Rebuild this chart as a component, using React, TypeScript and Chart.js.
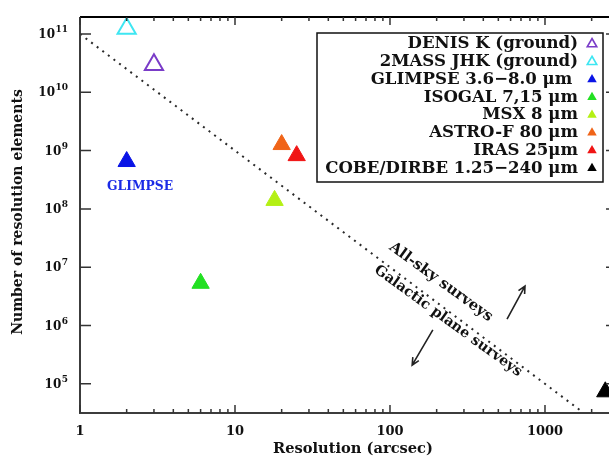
import React, { useEffect, useRef } from 'react';
import { Chart, registerables } from 'chart.js';

Chart.register(...registerables);

// ---------- data ----------
const seriesLabels = [
  'DENIS K (ground)',
  '2MASS JHK (ground)',
  'GLIMPSE 3.6−8.0 μm ',
  'ISOGAL 7,15 μm',
  'MSX 8 μm',
  'ASTRO-F 80 μm',
  'IRAS 25μm',
  'COBE/DIRBE 1.25−240 μm',
];
const resolutionArcsec = [3, 2, 2, 6, 18, 20, 25, 2450];
const resolutionElements = [2.96e10, 1.24e11, 6.5e8, 5.3e6, 1.4e8, 1.27e9, 8.2e8, 7.3e4];
const seriesColors = ['#7a3cc8', '#3ee6f2', '#0a14e6', '#22e022', '#b4f014', '#f06418', '#f01414', '#000000'];
const seriesHollow = [true, true, false, false, false, false, false, false];

const limitLineX = [1, 1779];
const limitLineY = [1e11, 3.16e4];

const xMin = 1;
const xMax = 2588;
const yMin = 3.16e4;
const yMax = 1.957e11;

const xMajorTicks = [1, 10, 100, 1000];
const xMinorTicks = [2, 3, 4, 5, 6, 7, 8, 9, 20, 30, 40, 50, 60, 70, 80, 90, 200, 300, 400, 500, 600, 700, 800, 900, 2000];
const yExponents = [5, 6, 7, 8, 9, 10, 11];

const xTitle = 'Resolution (arcsec)';
const yTitle = 'Number of resolution elements';
const allSkyText = 'All-sky surveys';
const galacticText = 'Galactic plane surveys';
const glimpseText = 'GLIMPSE';

// annotation anchors (data coordinates)
const allSkyAt = { x: 213, y: 5.57e6 };
const galacticAt = { x: 237, y: 1.19e6 };
const glimpseAt = { x: 2.44, y: 2.38e8 };
const arrowUp = { x0: 569, y0: 1.29e6, x1: 743, y1: 4.76e6 };
const arrowDown = { x0: 189, y0: 8.4e5, x1: 139, y1: 2.1e5 };

const FAMILY = '"DejaVu Serif", serif';

function fitSize(ctx: CanvasRenderingContext2D, text: string, target: number) {
  ctx.font = `bold 20px ${FAMILY}`;
  const w = ctx.measureText(text).width;
  return (20 * target) / w;
}

function triangle(ctx: CanvasRenderingContext2D, cx: number, cy: number, r: number) {
  const s = Math.sqrt(3) / 2;
  ctx.beginPath();
  ctx.moveTo(cx, cy - r);
  ctx.lineTo(cx + s * r, cy + r / 2);
  ctx.lineTo(cx - s * r, cy + r / 2);
  ctx.closePath();
}

function arrow(ctx: CanvasRenderingContext2D, x0: number, y0: number, x1: number, y1: number) {
  const ang = Math.atan2(y1 - y0, x1 - x0);
  const hl = 8;
  ctx.beginPath();
  ctx.moveTo(x0, y0);
  ctx.lineTo(x1, y1);
  ctx.moveTo(x1 - hl * Math.cos(ang - 0.45), y1 - hl * Math.sin(ang - 0.45));
  ctx.lineTo(x1, y1);
  ctx.lineTo(x1 - hl * Math.cos(ang + 0.45), y1 - hl * Math.sin(ang + 0.45));
  ctx.stroke();
}

const framePlugin = {
  id: 'framePlugin',
  afterDraw(chart: any) {
    const { ctx, chartArea: a, scales } = chart;
    const x = scales.x;
    const y = scales.y;
    ctx.save();

    // axes lines
    ctx.lineWidth = 2;
    ctx.strokeStyle = '#3c3c3c';
    ctx.beginPath();
    ctx.moveTo(a.left, a.top);
    ctx.lineTo(a.left, a.bottom);
    ctx.lineTo(a.right, a.bottom);
    ctx.stroke();
    ctx.strokeStyle = '#000';
    ctx.beginPath();
    ctx.moveTo(a.left, a.top);
    ctx.lineTo(a.right, a.top);
    ctx.stroke();

    // x ticks (bottom, up; top, down)
    ctx.lineWidth = 1.5;
    ctx.strokeStyle = '#333';
    const xt = (v: number, len: number) => {
      const px = x.getPixelForValue(v);
      ctx.beginPath();
      ctx.moveTo(px, a.bottom);
      ctx.lineTo(px, a.bottom - len);
      ctx.moveTo(px, a.top);
      ctx.lineTo(px, a.top + len);
      ctx.stroke();
    };
    xMajorTicks.forEach((v) => xt(v, 8));
    xMinorTicks.forEach((v) => xt(v, 4));

    // y ticks (left, right)
    yExponents.forEach((e) => {
      const py = y.getPixelForValue(Math.pow(10, e));
      ctx.beginPath();
      ctx.moveTo(a.left, py);
      ctx.lineTo(a.left + 11, py);
      ctx.moveTo(a.right, py);
      ctx.lineTo(a.right - 3, py);
      ctx.stroke();
    });

    ctx.fillStyle = '#111';
    // y tick labels
    yExponents.forEach((e) => {
      const py = y.getPixelForValue(Math.pow(10, e));
      const exp = String(e);
      ctx.font = `bold 9px ${FAMILY}`;
      const w2 = ctx.measureText(exp).width;
      const right = a.left - 12;
      ctx.textAlign = 'left';
      ctx.textBaseline = 'alphabetic';
      ctx.fillText(exp, right - w2, py - 2);
      ctx.font = `bold 12px ${FAMILY}`;
      ctx.textAlign = 'right';
      ctx.fillText('10', right - w2 - 0.5, py + 4);
    });

    // x tick labels
    ctx.font = `bold 13px ${FAMILY}`;
    ctx.textAlign = 'center';
    ctx.textBaseline = 'middle';
    xMajorTicks.forEach((v) => {
      ctx.fillText(String(v), x.getPixelForValue(v), a.bottom + 19);
    });

    // axis titles
    let fs = fitSize(ctx, xTitle, 160);
    ctx.font = `bold ${fs}px ${FAMILY}`;
    ctx.fillText(xTitle, 353, 449);
    fs = fitSize(ctx, yTitle, 263);
    ctx.save();
    ctx.translate(18, 212);
    ctx.rotate(-Math.PI / 2);
    ctx.font = `bold ${Math.min(fs, 14)}px ${FAMILY}`;
    ctx.fillText(yTitle, 0, 0);
    ctx.restore();

    // GLIMPSE label
    fs = fitSize(ctx, glimpseText, 66);
    ctx.font = `bold ${fs}px ${FAMILY}`;
    ctx.fillStyle = '#1a2ae6';
    ctx.fillText(glimpseText, x.getPixelForValue(glimpseAt.x), y.getPixelForValue(glimpseAt.y));

    // rotated annotations
    const ang = (36 * Math.PI) / 180;
    ctx.fillStyle = '#111';
    const rot = (text: string, at: { x: number; y: number }, len: number) => {
      const s = fitSize(ctx, text, len);
      ctx.save();
      ctx.translate(x.getPixelForValue(at.x), y.getPixelForValue(at.y));
      ctx.rotate(ang);
      ctx.font = `bold ${s}px ${FAMILY}`;
      ctx.textAlign = 'center';
      ctx.textBaseline = 'middle';
      ctx.fillText(text, 0, 0);
      ctx.restore();
    };
    rot(allSkyText, allSkyAt, 124);
    rot(galacticText, galacticAt, 179);

    // arrows
    ctx.strokeStyle = '#222';
    ctx.lineWidth = 1.6;
    arrow(ctx, x.getPixelForValue(arrowUp.x0), y.getPixelForValue(arrowUp.y0), x.getPixelForValue(arrowUp.x1), y.getPixelForValue(arrowUp.y1));
    arrow(ctx, x.getPixelForValue(arrowDown.x0), y.getPixelForValue(arrowDown.y0), x.getPixelForValue(arrowDown.x1), y.getPixelForValue(arrowDown.y1));

    // legend box
    const bx = 317, by = 33, bw = 286, bh = 149;
    ctx.fillStyle = '#fff';
    ctx.fillRect(bx, by, bw, bh);
    ctx.strokeStyle = '#111';
    ctx.lineWidth = 1.5;
    ctx.strokeRect(bx, by, bw, bh);
    const lfs = fitSize(ctx, seriesLabels[7], 253);
    ctx.font = `bold ${lfs}px ${FAMILY}`;
    ctx.textAlign = 'right';
    ctx.textBaseline = 'middle';
    seriesLabels.forEach((lab, i) => {
      const cy = 43 + i * 17.75;
      ctx.fillStyle = '#111';
      ctx.fillText(lab, 578, cy + 1);
      triangle(ctx, 592, cy + 1, 5.5);
      if (seriesHollow[i]) {
        ctx.strokeStyle = seriesColors[i];
        ctx.lineWidth = 1.6;
        ctx.stroke();
      } else {
        ctx.fillStyle = seriesColors[i];
        ctx.fill();
      }
    });

    ctx.restore();
  },
};

export default function App() {
  const ref = useRef<HTMLCanvasElement | null>(null);

  useEffect(() => {
    if (!ref.current) return;
    const datasets: any[] = seriesLabels.map((label, i) => ({
      type: 'scatter',
      label,
      data: [{ x: resolutionArcsec[i], y: resolutionElements[i] }],
      pointStyle: 'triangle',
      pointRadius: seriesHollow[i] ? 10.5 : 10,
      backgroundColor: seriesHollow[i] ? 'rgba(0,0,0,0)' : seriesColors[i],
      borderColor: seriesColors[i],
      borderWidth: seriesHollow[i] ? 2 : 1,
    }));
    datasets.push({
      type: 'line',
      label: 'limit',
      data: limitLineX.map((v, i) => ({ x: v, y: limitLineY[i] })),
      borderColor: '#2a2a2a',
      borderWidth: 2,
      borderDash: [2, 5],
      pointRadius: 0,
      fill: false,
    });

    const chart = new Chart(ref.current, {
      type: 'scatter',
      data: { datasets },
      options: {
        animation: false,
        responsive: false,
        layout: { autoPadding: false, padding: { top: 17, right: 0, left: 0, bottom: 0 } },
        plugins: { legend: { display: false }, tooltip: { enabled: false } },
        scales: {
          x: {
            type: 'logarithmic',
            min: xMin,
            max: xMax,
            grid: { display: false },
            border: { display: false },
            ticks: { display: false },
            afterFit: (s: any) => {
              s.height = 44;
            },
          },
          y: {
            type: 'logarithmic',
            min: yMin,
            max: yMax,
            grid: { display: false },
            border: { display: false },
            ticks: { display: false },
            afterFit: (s: any) => {
              s.width = 80;
            },
          },
        },
      },
      plugins: [framePlugin],
    } as any);
    return () => chart.destroy();
  }, []);

  return (
    <div style={{ position: 'fixed', left: 0, top: 0, width: 609, height: 457, background: '#fff' }}>
      <canvas ref={ref} width={609} height={457} />
    </div>
  );
}
